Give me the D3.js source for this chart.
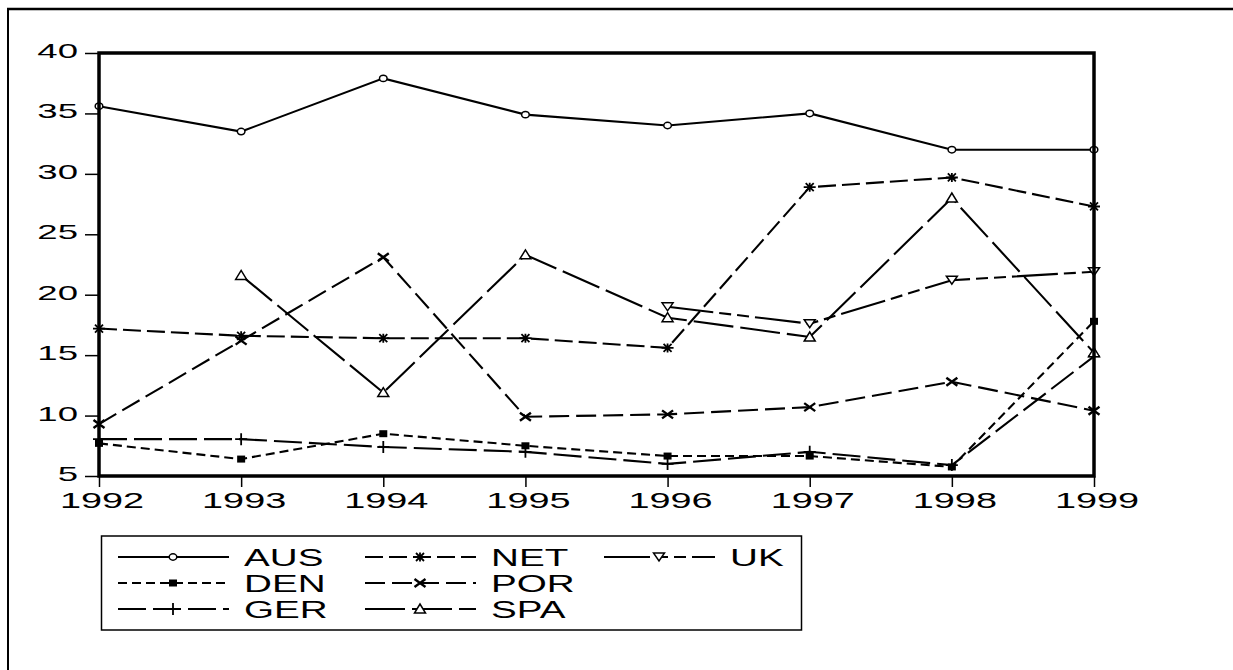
<!DOCTYPE html>
<html><head><meta charset="utf-8">
<script src="https://cdn.jsdelivr.net/npm/d3@7/dist/d3.min.js"></script>
<style>body{margin:0;background:#fff}svg{display:block}</style>
</head><body>
<script>
const years = [1992,1993,1994,1995,1996,1997,1998,1999];
const yTicks = [5,10,15,20,25,30,35,40];
const AUS = [35.6,33.5,37.9,34.9,34.0,35.0,32.0,32.0];
const NET = [17.2,16.6,16.4,16.4,15.6,28.9,29.7,27.3];
const UK  = [null,null,null,null,19.0,17.6,21.2,21.9];
const DEN = [7.7,6.4,8.5,7.5,6.65,6.65,5.75,17.8];
const POR = [9.3,16.2,23.1,9.9,10.1,10.7,12.8,10.4];
const GER = [8.05,8.05,7.4,7.0,6.0,7.0,5.9,14.9];
const SPA = [null,21.6,11.9,23.3,18.1,16.5,28.0,15.2];
const seriesNames = ["AUS","NET","UK","DEN","POR","GER","SPA"];
const seriesData = [AUS,NET,UK,DEN,POR,GER,SPA];

const styles = {
  AUS:{dash:null, marker:"circle"},
  NET:{dash:"18,6", marker:"asterisk"},
  UK:{dash:"46,6,12,6,12,6", marker:"triDown"},
  DEN:{dash:"9,5", marker:"square"},
  POR:{dash:"20,7", marker:"xmark"},
  GER:{dash:"28,7", marker:"plus"},
  SPA:{dash:"40,7", marker:"triUp"}
};
const legendPos = {
  AUS:{x:118,y:557}, NET:{x:365,y:557}, UK:{x:604,y:557},
  DEN:{x:118,y:583}, POR:{x:365,y:583},
  GER:{x:118,y:609}, SPA:{x:365,y:609}
};

const W=1233,H=670;
const svg = d3.select("body").append("svg").attr("width",W).attr("height",H);
const font = "'Liberation Sans', Arial, sans-serif";

// outer frame
svg.append("line").attr("x1",7).attr("x2",W).attr("y1",9).attr("y2",9).attr("stroke","#000").attr("stroke-width",2.5);
svg.append("line").attr("x1",8).attr("x2",8).attr("y1",9).attr("y2",H).attr("stroke","#000").attr("stroke-width",2);

const x = d3.scaleLinear().domain([1992,1999]).range([99,1094]);
const y = d3.scaleLinear().domain([5,40]).range([476,53]);

function stretchedText(g, txt, tx, ty, size, sx, anchor){
  g.append("text").attr("transform",`translate(${tx},${ty}) scale(${sx},1)`)
   .attr("text-anchor",anchor).attr("font-family",font).attr("font-size",size)
   .attr("fill","#000").text(txt);
}

// axes
const yAxis = svg.append("g").attr("transform","translate(99,0)")
  .call(d3.axisLeft(y).tickValues(yTicks).tickSize(14).tickFormat(""));
yAxis.select(".domain").remove();
yAxis.selectAll("line").attr("stroke","#000").attr("stroke-width",1.5);
const xAxis = svg.append("g").attr("transform","translate(0,476)")
  .call(d3.axisBottom(x).tickValues(years).tickSize(11).tickFormat(""));
xAxis.select(".domain").remove();
xAxis.selectAll("line").attr("stroke","#000").attr("stroke-width",1.5);

const lab = svg.append("g");
yTicks.forEach(v=>stretchedText(lab, String(v), 78, y(v)+5, 21, 1.74, "end"));
years.forEach(v=>stretchedText(lab, String(v), x(v)+3, 508, 22, 1.72, "middle"));

// lines
const lineGen = d3.line().defined(d=>d[1]!=null).x(d=>x(d[0])).y(d=>y(d[1]));
const plot = svg.append("g");
const markerPaths = {
  asterisk:"M-6,0H6M-4,-4L4,4M-4,4L4,-4M0,-4.5V4.5",
  triDown:"M-5.5,-4H5.5L0,4Z",
  xmark:"M-5.5,-4L5.5,4M-5.5,4L5.5,-4",
  plus:"M-6,0H6M0,-6V6",
  triUp:"M-5.5,4H5.5L0,-5Z"
};
function drawMarker(g, type, px, py){
  if(type==="circle"){
    g.append("ellipse").attr("cx",px).attr("cy",py).attr("rx",3.8).attr("ry",3.2)
     .attr("fill","#fff").attr("stroke","#000").attr("stroke-width",1.5);
  } else if(type==="square"){
    g.append("rect").attr("x",px-4).attr("y",py-3.5).attr("width",8).attr("height",7).attr("fill","#000");
  } else {
    const filled = type==="triDown"||type==="triUp";
    g.append("path").attr("transform",`translate(${px},${py})`).attr("d",markerPaths[type])
     .attr("fill",filled?"#fff":"none").attr("stroke","#000")
     .attr("stroke-width", type==="xmark"?2.4:(filled?1.5:1.8));
  }
}
seriesNames.forEach((name,i)=>{
  const pts = years.map((yr,j)=>[yr, seriesData[i][j]]);
  const st = styles[name];
  plot.append("path").attr("d",lineGen(pts)).attr("fill","none").attr("stroke","#000")
    .attr("stroke-width",2.1).attr("stroke-dasharray",st.dash);
});

// plot frame
svg.append("rect").attr("x",99).attr("y",53).attr("width",995).attr("height",423)
  .attr("fill","none").attr("stroke","#000").attr("stroke-width",3.5);

seriesNames.forEach((name,i)=>{
  const st = styles[name];
  years.forEach((yr,j)=>{
    const v = seriesData[i][j];
    if(v!=null) drawMarker(plot, st.marker, x(yr), y(v));
  });
});

// legend
const lg = svg.append("g");
lg.append("rect").attr("x",101.5).attr("y",536).attr("width",700).attr("height",94)
  .attr("fill","none").attr("stroke","#000").attr("stroke-width",1.5);
seriesNames.forEach(name=>{
  const p = legendPos[name], st = styles[name];
  lg.append("line").attr("x1",p.x).attr("x2",p.x+111).attr("y1",p.y).attr("y2",p.y)
    .attr("stroke","#000").attr("stroke-width",2.1).attr("stroke-dasharray",st.dash);
  drawMarker(lg, st.marker, p.x+55, p.y);
  stretchedText(lg, name, p.x+126, p.y+8.5, 23, 1.68, "start");
});
</script>
</body></html>
